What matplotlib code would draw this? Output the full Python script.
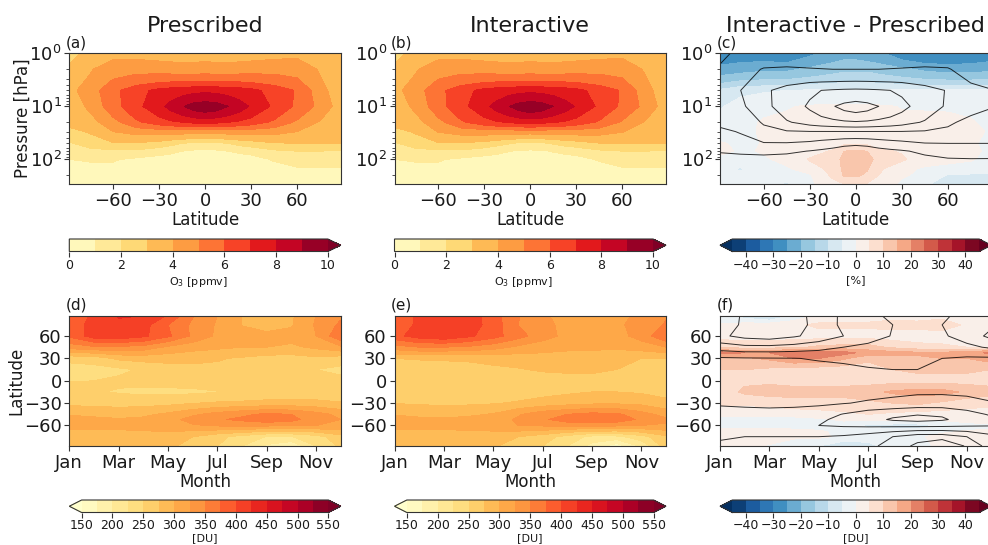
import matplotlib
matplotlib.use('Agg')
import matplotlib.pyplot as plt
import numpy as np

# grids
lat = [-88.5, -75, -60, -45, -30, -22.5, -15, -7.5, 0, 7.5, 15, 22.5, 30, 45, 60, 75, 88.5]
diff_pres_lat = [-88.5, -75, -60, -45, -30, -15, -7.5, 0, 7.5, 15, 30, 45, 60, 75, 88.5]
pressure = [1, 2, 5, 10, 20, 30, 50, 70, 100, 150, 200, 300]
months = list(range(12))
month_lat = [87.5, 75, 60, 45, 30, 15, 0, -15, -30, -45, -52, -60, -75, -87.5]
diff_lat = [87.5, 75, 60, 45, 37.5, 30, 15, 0, -15, -30, -45, -52, -60, -68, -75, -87.5]
month_names = ['Jan', 'Mar', 'May', 'Jul', 'Sep', 'Nov']

# zonal mean ozone [ppmv], prescribed
o3_pres = [
    [2.7, 3.3, 3.7, 3.7, 3.6, 3.55, 3.5, 3.55, 3.6, 3.55, 3.5, 3.55, 3.6, 3.7, 3.8, 3.5, 3.1],
    [3.2, 3.9, 4.6, 4.7, 4.6, 4.55, 4.5, 4.5, 4.5, 4.5, 4.5, 4.55, 4.6, 4.7, 4.6, 3.9, 3.3],
    [3.7, 4.5, 5.7, 6.6, 7.3, 7.5, 7.65, 7.75, 7.8, 7.75, 7.65, 7.5, 7.3, 6.6, 5.9, 4.4, 3.3],
    [3.4, 4.2, 5.6, 6.7, 7.7, 8.3, 8.9, 9.45, 9.7, 9.5, 9.0, 8.45, 7.9, 6.8, 5.8, 4.7, 3.5],
    [3.3, 3.6, 4.6, 5.8, 6.5, 6.8, 7.0, 7.2, 7.3, 7.2, 7.0, 6.8, 6.5, 5.8, 4.8, 3.9, 3.4],
    [2.7, 3.1, 4.0, 4.3, 4.4, 4.4, 4.4, 4.4, 4.4, 4.4, 4.4, 4.4, 4.4, 4.3, 4.0, 3.5, 3.3],
    [1.9, 2.4, 2.9, 2.9, 2.6, 2.3, 2.0, 1.75, 1.65, 1.75, 2.0, 2.3, 2.5, 2.9, 3.0, 3.0, 3.0],
    [1.6, 1.7, 1.8, 1.8, 1.4, 1.2, 1.0, 0.85, 0.8, 0.85, 1.0, 1.15, 1.3, 1.8, 2.0, 2.0, 1.9],
    [1.0, 1.1, 1.1, 0.8, 0.6, 0.55, 0.5, 0.5, 0.5, 0.5, 0.5, 0.55, 0.6, 1.1, 1.4, 1.45, 1.45],
    [0.6, 0.7, 0.7, 0.5, 0.35, 0.32, 0.3, 0.3, 0.3, 0.3, 0.3, 0.32, 0.35, 0.6, 0.9, 0.95, 0.9],
    [0.45, 0.5, 0.5, 0.35, 0.25, 0.22, 0.2, 0.2, 0.2, 0.2, 0.2, 0.22, 0.25, 0.4, 0.6, 0.65, 0.6],
    [0.3, 0.3, 0.3, 0.2, 0.15, 0.12, 0.1, 0.1, 0.1, 0.1, 0.1, 0.12, 0.15, 0.25, 0.35, 0.4, 0.4],
]

# zonal mean ozone [ppmv], interactive
o3_inter = [
    [2.7, 3.3, 3.7, 3.7, 3.6, 3.55, 3.5, 3.55, 3.6, 3.55, 3.5, 3.55, 3.6, 3.7, 3.8, 3.5, 3.1],
    [3.2, 3.9, 4.6, 4.7, 4.6, 4.55, 4.5, 4.5, 4.5, 4.5, 4.5, 4.55, 4.6, 4.7, 4.6, 3.9, 3.3],
    [3.7, 4.5, 5.7, 6.6, 7.3, 7.5, 7.65, 7.75, 7.8, 7.75, 7.65, 7.5, 7.3, 6.6, 5.9, 4.4, 3.3],
    [3.4, 4.2, 5.6, 6.7, 7.7, 8.3, 8.9, 9.45, 9.75, 9.5, 9.0, 8.45, 7.9, 6.8, 5.8, 4.7, 3.5],
    [3.3, 3.6, 4.65, 5.85, 6.55, 6.85, 7.05, 7.25, 7.35, 7.25, 7.05, 6.85, 6.55, 5.85, 4.85, 3.9, 3.4],
    [2.7, 3.1, 4.05, 4.35, 4.45, 4.45, 4.45, 4.45, 4.45, 4.45, 4.45, 4.45, 4.45, 4.35, 4.05, 3.5, 3.3],
    [1.9, 2.4, 2.9, 2.9, 2.65, 2.35, 2.1, 1.8, 1.7, 1.8, 2.1, 2.35, 2.55, 2.95, 3.0, 3.0, 3.0],
    [1.6, 1.7, 1.8, 1.8, 1.45, 1.25, 1.05, 0.9, 0.85, 0.9, 1.05, 1.2, 1.35, 1.8, 2.0, 2.0, 1.9],
    [1.0, 1.1, 1.1, 0.8, 0.6, 0.57, 0.55, 0.55, 0.55, 0.55, 0.55, 0.6, 0.65, 1.1, 1.4, 1.45, 1.45],
    [0.6, 0.7, 0.7, 0.5, 0.35, 0.32, 0.3, 0.33, 0.33, 0.33, 0.3, 0.32, 0.35, 0.6, 0.9, 0.95, 0.9],
    [0.45, 0.5, 0.5, 0.35, 0.25, 0.22, 0.2, 0.22, 0.22, 0.22, 0.2, 0.22, 0.25, 0.4, 0.6, 0.65, 0.6],
    [0.3, 0.3, 0.3, 0.2, 0.15, 0.12, 0.1, 0.1, 0.1, 0.1, 0.1, 0.12, 0.15, 0.25, 0.35, 0.4, 0.4],
]

# contour field over panel (c): values for the last two latitudes, rows 2 to 20 hPa
line_rows = [1, 2, 3, 4]
line_edge = [[3.9, 3.4], [5.0, 4.6], [5.1, 4.6], [3.9, 3.5]]

# interactive minus prescribed [%]
o3_diff = [
    [-29, -28, -28, -29, -26, -23, -22, -22, -23, -24, -28, -30, -30, -29, -28],
    [-23, -22, -21, -21, -19, -17, -16, -16, -16, -17, -19, -21, -22, -22, -21],
    [-9, -6, -5.5, -5, -4.5, -4.5, -4.5, -4.5, -4.5, -4.5, -4.5, -4.5, -4.5, -4.5, -4.5],
    [-5.5, -3, -1, -0.3, 0.5, 0.8, 0.8, 0.8, 0.7, 0.6, -0.2, -0.3, -0.4, -1, -2],
    [-3, -1.5, 0.5, 1, 1, 1, 1, 1, 1, 1, 1, 1, 1, 0.5, -1.5],
    [-2, -1, 0.5, 1, 1, 1.2, 1.4, 1.5, 1.4, 1.2, 1, 1, 1, 1, -0.5],
    [0.5, -1, 0.2, 0.8, 1.5, 2.5, 4, 4.5, 4, 2.5, 1.5, 1, 0.8, 0.5, -1],
    [1, -0.5, 0.3, 1, 3, 5.5, 10, 10.5, 10, 6, 4.5, 2, 1, 0.5, -0.5],
    [-1.2, -1.5, -0.5, 1, 5.5, 7.5, 11.5, 12.5, 12, 8, 6, 1.5, 0.8, 0.3, -1],
    [-4, -5.5, -2, -0.5, 2, 7, 11, 12, 10.5, 6, 1, -0.5, -1, -1.5, -2],
    [-2, -4, -2, -3, -0.5, 6, 10.5, 11, 9, 5, 0.5, -1, -5.5, -6, -6],
    [-4, -3.5, -3, -6, -1, 3, 4.5, 4.5, 4, 3, -1, -4, -9, -10.5, -8],
]

# total column ozone [DU], prescribed
tco_pres = [
    [378, 405, 428, 425, 398, 352, 325, 299, 292, 297, 325, 345],
    [385, 410, 418, 410, 375, 345, 322, 299, 292, 297, 328, 355],
    [380, 412, 418, 405, 380, 345, 320, 310, 305, 310, 325, 370],
    [335, 345, 345, 340, 320, 310, 305, 300, 300, 295, 305, 320],
    [258, 260, 280, 285, 285, 282, 277, 272, 265, 265, 270, 262],
    [238, 242, 245, 253, 262, 268, 270, 268, 263, 255, 250, 244],
    [249, 250, 254, 258, 260, 261, 262, 262, 262, 262, 260, 256],
    [258, 252, 248, 244, 244, 245, 249, 252, 256, 258, 258, 258],
    [268, 267, 265, 266, 268, 274, 278, 280, 283, 284, 282, 277],
    [298, 295, 292, 295, 305, 320, 335, 345, 355, 350, 335, 318],
    [310, 305, 302, 305, 315, 335, 347, 355, 368, 358, 335, 325],
    [310, 310, 310, 315, 318, 322, 328, 332, 330, 328, 325, 323],
    [285, 283, 283, 283, 285, 275, 258, 240, 224, 224, 240, 265],
    [278, 277, 277, 277, 278, 270, 250, 225, 195, 178, 225, 255],
]

# total column ozone [DU], interactive
tco_inter = [
    [380, 405, 420, 415, 385, 352, 330, 312, 302, 312, 335, 348],
    [385, 405, 418, 412, 390, 350, 330, 320, 312, 320, 335, 352],
    [392, 412, 420, 405, 385, 360, 335, 318, 313, 315, 335, 372],
    [340, 350, 350, 345, 335, 320, 312, 305, 305, 305, 312, 325],
    [275, 277, 278, 279, 283, 286, 288, 290, 287, 280, 275, 275],
    [262, 263, 264, 266, 270, 273, 278, 280, 280, 275, 266, 265],
    [256, 256, 257, 258, 259, 261, 263, 265, 266, 265, 263, 259],
    [258, 256, 256, 257, 258, 262, 266, 271, 275, 275, 272, 265],
    [274, 272, 270, 271, 273, 278, 285, 290, 295, 296, 293, 283],
    [298, 294, 293, 295, 302, 322, 340, 350, 358, 355, 335, 315],
    [312, 305, 303, 308, 315, 328, 345, 365, 372, 365, 345, 330],
    [312, 312, 312, 315, 320, 325, 328, 330, 332, 330, 325, 322],
    [282, 280, 280, 280, 280, 275, 262, 240, 218, 218, 240, 270],
    [277, 277, 277, 277, 277, 268, 250, 225, 190, 160, 205, 262],
]

# interactive minus prescribed [DU]
tco_diff = [
    [-5, -8, -13, -5, 1, 2, 2.5, 3, 2, 3, 2, 1],
    [1, 2, 3, 4, 6, 6, 6, 7, 7, 8, 4, 3],
    [3, 3, 3, 3, 3, 3, 3, 2.5, 2, 2.5, 3, 3],
    [9, 8, 8, 9, 11, 12, 12, 9, 7, 6, 5, 5],
    [22, 20, 20, 23, 23, 22, 18, 17, 16, 16, 18, 21],
    [13, 14, 16, 20, 20, 16, 11, 12, 14, 15, 15, 18],
    [10, 10, 9, 8, 7, 7, 8, 10, 11, 11, 11, 10],
    [8, 9, 9, 8, 8, 8, 8, 8, 8, 8, 8, 8],
    [7, 11, 12, 12, 12, 12, 13, 16, 17, 17, 14, 12],
    [6, 6, 7, 8, 8, 8, 9, 10, 11, 9, 7, 6],
    [1.5, 1, 1, 2, 3, 4, 5, 4, 3, 3, 3, 3],
    [-1.5, -2, -2, -2, -1, 1, 1, 1, 1, 1, 2, 3],
    [-1, -1, -1, -1.5, -2, -3, -6, -7, -7, -4, -2, -1],
    [1, 1, 1, 1, 0.5, -1, -3, -3, -3, -1, 0.5, 0.5],
    [3, 2.5, 2.5, 1, 1, -1, -2, -3, -1, 2, 4, 4],
    [1, 1, -0.5, -3, -5, -9, -7, -2, -1.5, 1, 4, 3],
]

o3_levels = np.arange(0, 11, 1)
tco_levels = np.arange(150, 551, 25)
diff_levels = np.arange(-45, 46, 5)
o3_lines = [1.5, 3, 4.5, 6, 7.5, 9]
tco_lines = [160, 200, 240, 280, 320, 360, 400]

text_col = '#1a1a1a'
plt.rcParams['axes.edgecolor'] = '#333333'
plt.rcParams['xtick.color'] = '#333333'
plt.rcParams['ytick.color'] = '#333333'
plt.rcParams['xtick.labelcolor'] = text_col
plt.rcParams['ytick.labelcolor'] = text_col
plt.rcParams['text.color'] = text_col
plt.rcParams['axes.labelcolor'] = text_col

W, H = 988, 545
fig = plt.figure(figsize=(W / 100, H / 100), dpi=100)


def box(x0, y0, x1, y1):
    # pixel box (from top left) to figure fraction
    return [x0 / W, 1 - y1 / H, (x1 - x0) / W, (y1 - y0) / H]


lefts = [69.3, 394.5, 720]
width = 271.5


def top_panel(col, x_lat, data, levels, cmap, extend, label, cbar_label, title, cticks, lines=None):
    left = lefts[col]
    ax = fig.add_axes(box(left, 53.3, left + width, 184))
    cs = ax.contourf(x_lat, pressure, data, levels=levels, cmap=cmap, extend=extend)
    if lines is not None:
        ax.contour(lat, pressure, lines, levels=o3_lines, colors='k', linewidths=0.7, alpha=0.8)
    ax.set_yscale('log')
    ax.set_ylim(292, 1)
    ax.set_xlim(-88.5, 88.5)
    ax.set_xticks([-60, -30, 0, 30, 60])
    ax.tick_params(labelsize=13, pad=2)
    ax.set_xlabel('Latitude', fontsize=12, labelpad=1)
    if col == 0:
        ax.set_ylabel('Pressure [hPa]', fontsize=12, labelpad=-2)
    ax.set_title(title, fontsize=16, pad=15)
    ax.text(-0.012, 1.02, label, transform=ax.transAxes, fontsize=11, ha='left', va='bottom')
    cax = fig.add_axes(box(left, 239, left + width, 251.5))
    cb = fig.colorbar(cs, cax=cax, orientation='horizontal', ticks=cticks)
    cb.ax.tick_params(labelsize=9, pad=2)
    cb.set_label(cbar_label, fontsize=8, labelpad=2)


def bottom_panel(col, x_lat, data, levels, cmap, label, cticks, lines=None, line_lat=None):
    left = lefts[col]
    ax = fig.add_axes(box(left, 315.5, left + width, 446))
    cs = ax.contourf(months, x_lat, data, levels=levels, cmap=cmap, extend='both')
    if lines is not None:
        ax.contour(months, line_lat, lines, levels=tco_lines, colors='k', linewidths=0.7, alpha=0.8)
    ax.set_xlim(0, 11)
    ax.set_ylim(-87.5, 87.5)
    ax.set_xticks(range(0, 11, 2))
    ax.set_xticklabels(month_names)
    ax.set_yticks([-60, -30, 0, 30, 60])
    ax.tick_params(labelsize=13, pad=2)
    ax.set_xlabel('Month', fontsize=12, labelpad=1)
    if col == 0:
        ax.set_ylabel('Latitude', fontsize=12, labelpad=-1)
    ax.text(-0.012, 1.02, label, transform=ax.transAxes, fontsize=11, ha='left', va='bottom')
    cax = fig.add_axes(box(left, 500, left + width, 512.5))
    cb = fig.colorbar(cs, cax=cax, orientation='horizontal', ticks=cticks)
    cb.ax.tick_params(labelsize=9, pad=1.5)
    cb.set_label('[DU]', fontsize=8, labelpad=0.5)


o3_ticks = list(range(0, 11, 2))
tco_ticks = list(range(150, 551, 50))
diff_ticks = list(range(-40, 41, 10))

# contour field for (c) follows the interactive table except at the northern edge
o3_contour = [list(row) for row in o3_inter]
for row, edge in zip(line_rows, line_edge):
    o3_contour[row][-2:] = edge

top_panel(0, lat, o3_pres, o3_levels, 'YlOrRd', 'max', '(a)', 'O$_3$ [ppmv]', 'Prescribed', o3_ticks)
top_panel(1, lat, o3_inter, o3_levels, 'YlOrRd', 'max', '(b)', 'O$_3$ [ppmv]', 'Interactive', o3_ticks)
top_panel(2, diff_pres_lat, o3_diff, diff_levels, 'RdBu_r', 'both', '(c)', '[%]',
          'Interactive - Prescribed', diff_ticks, lines=o3_contour)

bottom_panel(0, month_lat, tco_pres, tco_levels, 'YlOrRd', '(d)', tco_ticks)
bottom_panel(1, month_lat, tco_inter, tco_levels, 'YlOrRd', '(e)', tco_ticks)
bottom_panel(2, diff_lat, tco_diff, diff_levels, 'RdBu_r', '(f)', diff_ticks,
             lines=tco_inter, line_lat=month_lat)

fig.savefig('out.png', dpi=100)
